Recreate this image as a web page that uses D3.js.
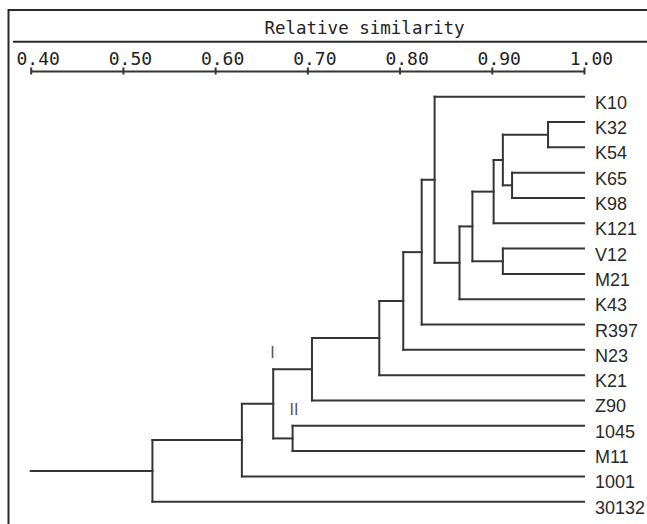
<!DOCTYPE html>
<html>
<head>
<meta charset="utf-8">
<script src="https://cdn.jsdelivr.net/npm/d3@7"></script>
<style>
  html, body { margin: 0; padding: 0; background: #ffffff; }
  svg { display: block; }
</style>
</head>
<body>
<svg id="chart" width="647" height="524"></svg>
<script>
// ---- data ----
const title = "Relative similarity";
const tickValues = [0.40, 0.50, 0.60, 0.70, 0.80, 0.90, 1.00];
const leaves = ["K10","K32","K54","K65","K98","K121","V12","M21","K43","R397","N23","K21","Z90","1045","M11","1001","30132"];
// merges: [childA, childB, similarity]; "cN" refers to the N-th merge
const mergeA = ["K32","K65","c0","c2","V12","c3","c5","K10","c7","c8","c9","c10","1045","c11","c13","c14"];
const mergeB = ["K54","K98","c1","K121","M21","c4","K43","c6","R397","N23","K21","Z90","M11","c12","1001","30132"];
const mergeSim = [0.961,0.922,0.912,0.902,0.912,0.879,0.865,0.838,0.824,0.804,0.778,0.705,0.684,0.663,0.629,0.532];
const rootStart = 0.40;
const groupLabels = [["I", 13], ["II", 12]]; // label, merge index

// ---- build hierarchy ----
const nodes = {};
leaves.forEach(n => nodes[n] = {name: n, sim: 1.0});
mergeSim.forEach((s, i) => {
  nodes["c" + i] = {name: "c" + i, sim: s, children: [nodes[mergeA[i]], nodes[mergeB[i]]]};
});
const rootData = nodes["c" + (mergeSim.length - 1)];
const root = d3.hierarchy(rootData);

// ---- scales ----
const x = d3.scaleLinear().domain([0.40, 1.00]).range([30.7, 584]);
const y = d3.scalePoint().domain(leaves).range([96.7, 501.7]);

// position nodes
root.eachAfter(n => {
  n.px = x(n.data.sim);
  n.py = n.children ? d3.mean(n.children, c => c.py) : y(n.data.name);
});

const svg = d3.select("#chart");
const ink = "#353535";

// frame
svg.append("rect").attr("x", 8.5).attr("y", 10).attr("width", 700).attr("height", 600)
  .attr("fill", "none").attr("stroke", "#2a2a2a").attr("stroke-width", 2);
svg.append("line").attr("x1", 13).attr("x2", 660).attr("y1", 41.7).attr("y2", 41.7)
  .attr("stroke", "#2a2a2a").attr("stroke-width", 2);

// title
svg.append("text").attr("x", 364.5).attr("y", 34.3).attr("text-anchor", "middle")
  .attr("font-family", "DejaVu Sans Mono").attr("font-size", 17.5).attr("fill", "#222")
  .text(title);

// axis
const axis = d3.axisTop(x).tickValues(tickValues).tickFormat(d3.format(".2f"))
  .tickSize(4).tickSizeOuter(0);
const gAxis = svg.append("g").attr("transform", "translate(0,71)").call(axis);
gAxis.select(".domain").attr("stroke", ink).attr("stroke-width", 2);
gAxis.selectAll(".tick line").attr("y1", 3.5).attr("y2", -3.5)
  .attr("stroke", ink).attr("stroke-width", 2);
gAxis.selectAll(".tick text")
  .attr("font-family", "DejaVu Sans Mono").attr("font-size", 18).attr("fill", "#222")
  .attr("text-anchor", "start").attr("x", -14.7).attr("y", -6).attr("dy", 0);

// tree links (elbow)
const g = svg.append("g").attr("fill", "none").attr("stroke", ink).attr("stroke-width", 2)
  .attr("stroke-linecap", "square");
root.descendants().filter(n => n.children).forEach(n => {
  const ys = n.children.map(c => c.py);
  g.append("line").attr("x1", n.px).attr("x2", n.px)
    .attr("y1", d3.min(ys)).attr("y2", d3.max(ys));
  n.children.forEach(c => {
    g.append("line").attr("x1", n.px).attr("x2", c.px).attr("y1", c.py).attr("y2", c.py);
  });
});
// root stem
g.append("line").attr("x1", x(rootStart)).attr("x2", root.px)
  .attr("y1", root.py).attr("y2", root.py);

// leaf labels
svg.append("g").selectAll("text").data(root.leaves()).join("text")
  .attr("x", 595).attr("y", d => d.py + 12)
  .attr("font-family", "Liberation Sans, Arial, sans-serif").attr("font-size", 18)
  .attr("fill", "#2a2a2a")
  .text(d => d.data.name);

// group labels I, II
groupLabels.forEach(([lab, idx]) => {
  const n = root.descendants().find(d => d.data.name === "c" + idx);
  const top = d3.min(n.children, c => c.py);
  svg.append("text").attr("x", n.px - 3).attr("y", top - 11)
    .attr("font-family", "Liberation Sans, Arial, sans-serif").attr("font-size", 16)
    .attr("fill", "#555").text(lab);
});
</script>
</body>
</html>
